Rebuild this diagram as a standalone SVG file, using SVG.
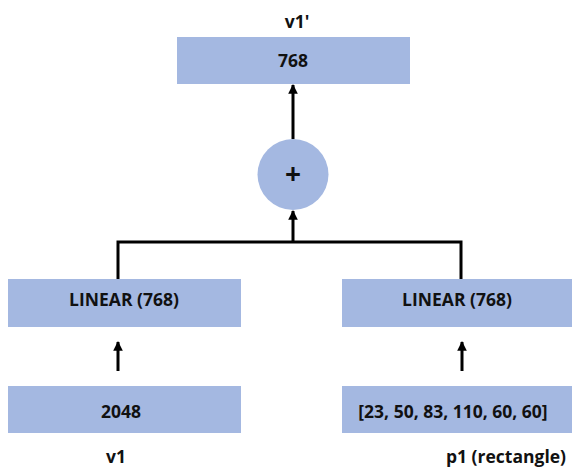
<svg xmlns="http://www.w3.org/2000/svg" width="573" height="469" viewBox="0 0 573 469">
  <style>
    .box { fill: #a4b8e1; }
    .lbl { font-family: "Open Sans", "Noto Sans", sans-serif; font-weight: bold; font-size: 17.5px; fill: #111; text-anchor: middle; }
    .plus { font-size: 28px; }
    .wire { fill: none; stroke: #000; stroke-width: 3; }
  </style>
  <defs>
    <marker id="head" viewBox="0 0 10 10" refX="9" refY="5" markerWidth="3.2" markerHeight="3.2" orient="auto" markerUnits="strokeWidth">
      <path d="M0,0 L10,5 L0,10 z" fill="#000"/>
    </marker>
  </defs>

  <g id="connectors">
    <line class="wire" x1="293" y1="139" x2="293" y2="85" marker-end="url(#head)"/>
    <polyline class="wire" points="118,279 118,242 461,242 461,279"/>
    <line class="wire" x1="293" y1="242" x2="293" y2="211" marker-end="url(#head)"/>
    <line class="wire" x1="118" y1="371" x2="118" y2="342" marker-end="url(#head)"/>
    <line class="wire" x1="462" y1="371" x2="462" y2="342" marker-end="url(#head)"/>
  </g>

  <g id="out">
    <rect class="box" x="177" y="37" width="233" height="47"/>
    <text class="lbl" x="293" y="67">768</text>
    <text class="lbl" x="297" y="28">v1'</text>
  </g>

  <g id="sum">
    <circle class="box" cx="293" cy="174.5" r="35.5"/>
    <text class="lbl plus" x="293" y="184">+</text>
  </g>

  <g id="linear-left">
    <rect class="box" x="8" y="279" width="233" height="48"/>
    <text class="lbl" x="124" y="306">LINEAR (768)</text>
  </g>

  <g id="linear-right">
    <rect class="box" x="342" y="279" width="230" height="48"/>
    <text class="lbl" x="457" y="306">LINEAR (768)</text>
  </g>

  <g id="v1">
    <rect class="box" x="8" y="386" width="233" height="47"/>
    <text class="lbl" x="121" y="418">2048</text>
    <text class="lbl" x="116" y="463">v1</text>
  </g>

  <g id="p1">
    <rect class="box" x="342" y="386" width="230" height="47"/>
    <text class="lbl" x="453" y="418">[23, 50, 83, 110, 60, 60]</text>
    <text class="lbl" x="506" y="463">p1 (rectangle)</text>
  </g>
</svg>
